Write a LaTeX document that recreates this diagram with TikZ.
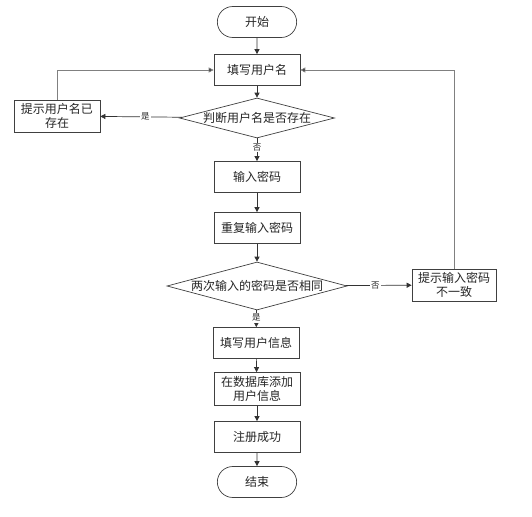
\documentclass[tikz,border=0pt]{standalone}
\usepackage{fontspec}
\newfontfamily\cjk{Noto Sans CJK SC}
\usetikzlibrary{shapes.geometric,shapes.misc,arrows.meta,shadows}

\begin{document}
\begin{tikzpicture}[x=1pt,y=-1pt,
  font=\cjk\fontsize{12}{14.5}\selectfont,
  every node/.style={draw=black!75,line width=0.7pt,fill=white,align=center,text=black!85},
  box/.style={rectangle,minimum width=86pt,minimum height=31pt,inner sep=1pt,
    text width=82pt,drop shadow={shadow xshift=0.8pt,shadow yshift=-0.8pt,fill=black!35,opacity=1}},
  term/.style={rounded rectangle,minimum width=86pt,minimum height=31pt},
  test/.style={diamond,inner sep=0pt,aspect=3.8},
  lbl/.style={draw=none,fill=white,inner sep=1pt,font=\cjk\fontsize{8.5}{10}\selectfont},
  flow/.style={draw=black!80,line width=0.7pt,-{Triangle[length=5pt,width=5pt]}},
  back/.style={draw=black!50,line width=0.8pt,-{Triangle[length=5pt,width=5pt,fill=black!80]}}]
  \useasboundingbox (0,0) rectangle (532,516);

  \node[term] (0) at (257,22) {开始};
  \node[box] (1) at (257,70) {填写用户名};
  \node[test,minimum width=155pt,minimum height=40pt] (2) at (257,118) {判断用户名是否存在};
  \node[box,minimum height=32pt] (3) at (57,116) {提示用户名已\\存在};
  \node[box] (4) at (257,177) {输入密码};
  \node[box] (5) at (257,228) {重复输入密码};
  \node[test,minimum width=180pt,minimum height=48pt] (6) at (257,286) {两次输入的密码是否相同};
  \node[box,minimum width=84pt,minimum height=32pt] (7) at (454,285) {提示输入密码\\不一致};
  \node[box] (8) at (256,343) {填写用户信息};
  \node[box,minimum height=33pt] (9) at (257,389) {在数据库添加\\用户信息};
  \node[box] (10) at (257,437) {注册成功};
  \node[term] (11) at (257,482) {结束};

  \draw[flow] (0)--(1);
  \draw[flow] (1)--(2);
  \draw[flow] (2)--node[lbl,pos=0.45]{是}(3);
  \draw[flow] (2)--node[lbl,pos=0.4]{否}(4);
  \draw[flow] (4)--(5);
  \draw[flow] (5)--(6);
  \draw[flow] (6)--node[lbl,pos=0.45]{否}(7);
  \draw[flow] (6)--node[lbl,pos=0.45]{是}(8);
  \draw[flow] (8)--(9);
  \draw[flow] (9)--(10);
  \draw[flow] (10)--(11);
  \draw[back] (3.north) |- (1.west);
  \draw[back] (7.north) |- (1.east);
\end{tikzpicture}
\end{document}
